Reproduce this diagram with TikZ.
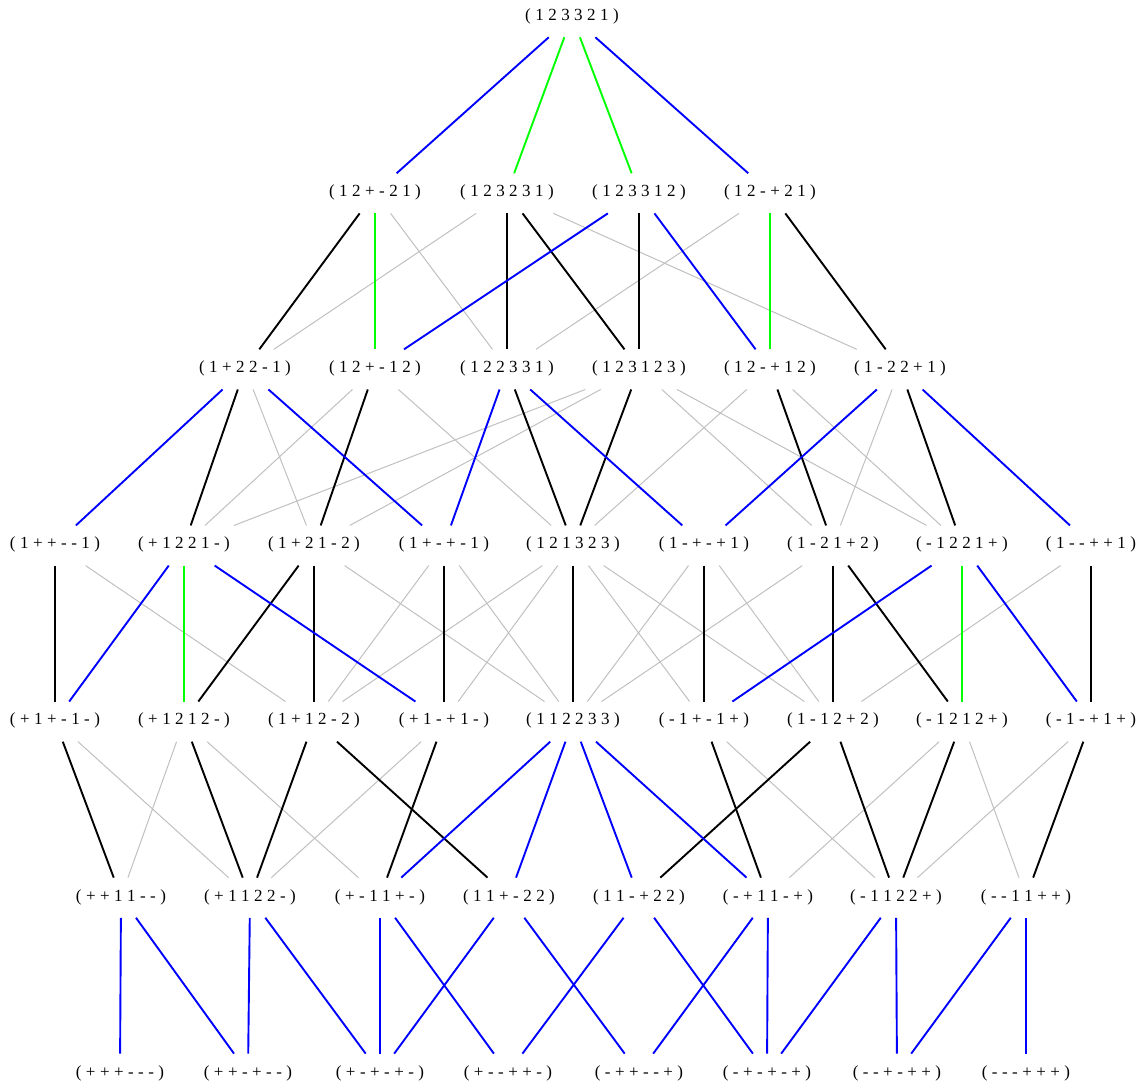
\documentclass[tikz,border=0pt]{standalone}
\usepackage{fontspec}
\setmainfont{Liberation Serif}[WordSpace={1.05,0,0}]
\usetikzlibrary{calc}
\definecolor{edgegray}{RGB}{192,192,192}
\definecolor{edgegreen}{RGB}{0,255,0}
\definecolor{edgeblue}{RGB}{0,0,255}
\begin{document}
\begin{tikzpicture}[x=1pt,y=-1pt,
  lbl/.style={inner sep=0pt,font=\fontsize{17}{19}\selectfont},
  gry/.style={draw=edgegray,line width=1pt},
  blk/.style={draw=black,line width=1.9pt},
  blu/.style={draw=edgeblue,line width=1.9pt},
  grn/.style={draw=edgegreen,line width=1.9pt}]
\useasboundingbox (0,0) rectangle (1144,1086);
% row 1
\node[lbl] (A) at (572,16.5) {( 1 2 3 3 2 1 )};
% row 2
\node[lbl] (B1) at (375,192.6) {( 1 2 + - 2 1 )};
\node[lbl] (B2) at (507,192.6) {( 1 2 3 2 3 1 )};
\node[lbl] (B3) at (639,192.6) {( 1 2 3 3 1 2 )};
\node[lbl] (B4) at (770,192.6) {( 1 2 - + 2 1 )};
% row 3
\node[lbl] (C1) at (245,368.7) {( 1 + 2 2 - 1 )};
\node[lbl] (C2) at (375,368.7) {( 1 2 + - 1 2 )};
\node[lbl] (C3) at (507,368.7) {( 1 2 2 3 3 1 )};
\node[lbl] (C4) at (639,368.7) {( 1 2 3 1 2 3 )};
\node[lbl] (C5) at (770,368.7) {( 1 2 - + 1 2 )};
\node[lbl] (C6) at (900,368.7) {( 1 - 2 2 + 1 )};
% row 4
\node[lbl] (D1) at (55,544.8) {( 1 + + - - 1 )};
\node[lbl] (D2) at (184,544.8) {( + 1 2 2 1 - )};
\node[lbl] (D3) at (314,544.8) {( 1 + 2 1 - 2 )};
\node[lbl] (D4) at (444,544.8) {( 1 + - + - 1 )};
\node[lbl] (D5) at (573,544.8) {( 1 2 1 3 2 3 )};
\node[lbl] (D6) at (704,544.8) {( 1 - + - + 1 )};
\node[lbl] (D7) at (833,544.8) {( 1 - 2 1 + 2 )};
\node[lbl] (D8) at (962,544.8) {( - 1 2 2 1 + )};
\node[lbl] (D9) at (1091,544.8) {( 1 - - + + 1 )};
% row 5
\node[lbl] (E1) at (55,720.9) {( + 1 + - 1 - )};
\node[lbl] (E2) at (184,720.9) {( + 1 2 1 2 - )};
\node[lbl] (E3) at (314,720.9) {( 1 + 1 2 - 2 )};
\node[lbl] (E4) at (444,720.9) {( + 1 - + 1 - )};
\node[lbl] (E5) at (573,720.9) {( 1 1 2 2 3 3 )};
\node[lbl] (E6) at (704,720.9) {( - 1 + - 1 + )};
\node[lbl] (E7) at (833,720.9) {( 1 - 1 2 + 2 )};
\node[lbl] (E8) at (962,720.9) {( - 1 2 1 2 + )};
\node[lbl] (E9) at (1091,720.9) {( - 1 - + 1 + )};
% row 6
\node[lbl] (F1) at (121,897) {( + + 1 1 - - )};
\node[lbl] (F2) at (250,897) {( + 1 1 2 2 - )};
\node[lbl] (F3) at (380,897) {( + - 1 1 + - )};
\node[lbl] (F4) at (509,897) {( 1 1 + - 2 2 )};
\node[lbl] (F5) at (639,897) {( 1 1 - + 2 2 )};
\node[lbl] (F6) at (768,897) {( - + 1 1 - + )};
\node[lbl] (F7) at (896,897) {( - 1 1 2 2 + )};
\node[lbl] (F8) at (1026,897) {( - - 1 1 + + )};
% row 7
\node[lbl] (G1) at (120,1073) {( + + + - - - )};
\node[lbl] (G2) at (248,1073) {( + + - + - - )};
\node[lbl] (G3) at (380,1073) {( + - + - + - )};
\node[lbl] (G4) at (508,1073) {( + - - + + - )};
\node[lbl] (G5) at (639,1073) {( - + + - - + )};
\node[lbl] (G6) at (767,1073) {( - + - + - + )};
\node[lbl] (G7) at (897,1073) {( - - + - + + )};
\node[lbl] (G8) at (1026,1073) {( - - - + + + )};
% edges
\foreach \a/\b in {B1/C3,B2/C1,B2/C6,B4/C3,
  C1/D3,C2/D2,C2/D5,C4/D2,C4/D3,C4/D7,C4/D8,C5/D5,C5/D8,C6/D7,
  D1/E3,D3/E5,D4/E3,D4/E5,D5/E3,D5/E4,D5/E6,D5/E7,D6/E5,D6/E7,D7/E5,D9/E7,
  E1/F2,E2/F1,E2/F3,E4/F2,E6/F7,E8/F6,E8/F8,E9/F7}
  \draw[gry] ($(\a)!0.118!(\b)$) -- ($(\a)!0.89!(\b)$);
\foreach \a/\b in {B1/C1,B2/C3,B2/C4,B3/C4,B4/C6,
  C1/D2,C2/D3,C3/D5,C4/D5,C5/D7,C6/D8,
  D1/E1,D3/E2,D3/E3,D4/E4,D5/E5,D6/E6,D7/E7,D7/E8,D9/E9,
  E1/F1,E2/F2,E3/F2,E3/F4,E4/F3,E6/F6,E7/F5,E7/F7,E8/F7,E9/F8}
  \draw[blk] ($(\a)!0.118!(\b)$) -- ($(\a)!0.89!(\b)$);
\foreach \a/\b in {A/B1,A/B4,B3/C2,B3/C5,
  C1/D1,C1/D4,C3/D4,C3/D6,C6/D6,C6/D9,
  D2/E1,D2/E4,D8/E6,D8/E9,
  E5/F3,E5/F4,E5/F5,E5/F6,
  F1/G1,F1/G2,F2/G2,F2/G3,F3/G3,F3/G4,F4/G3,F4/G5,F5/G4,F5/G6,F6/G5,F6/G6,F7/G6,F7/G7,F8/G7,F8/G8}
  \draw[blu] ($(\a)!0.118!(\b)$) -- ($(\a)!0.89!(\b)$);
\foreach \a/\b in {A/B2,A/B3,B1/C2,B4/C5,D2/E2,D8/E8}
  \draw[grn] ($(\a)!0.118!(\b)$) -- ($(\a)!0.89!(\b)$);
\end{tikzpicture}
\end{document}
